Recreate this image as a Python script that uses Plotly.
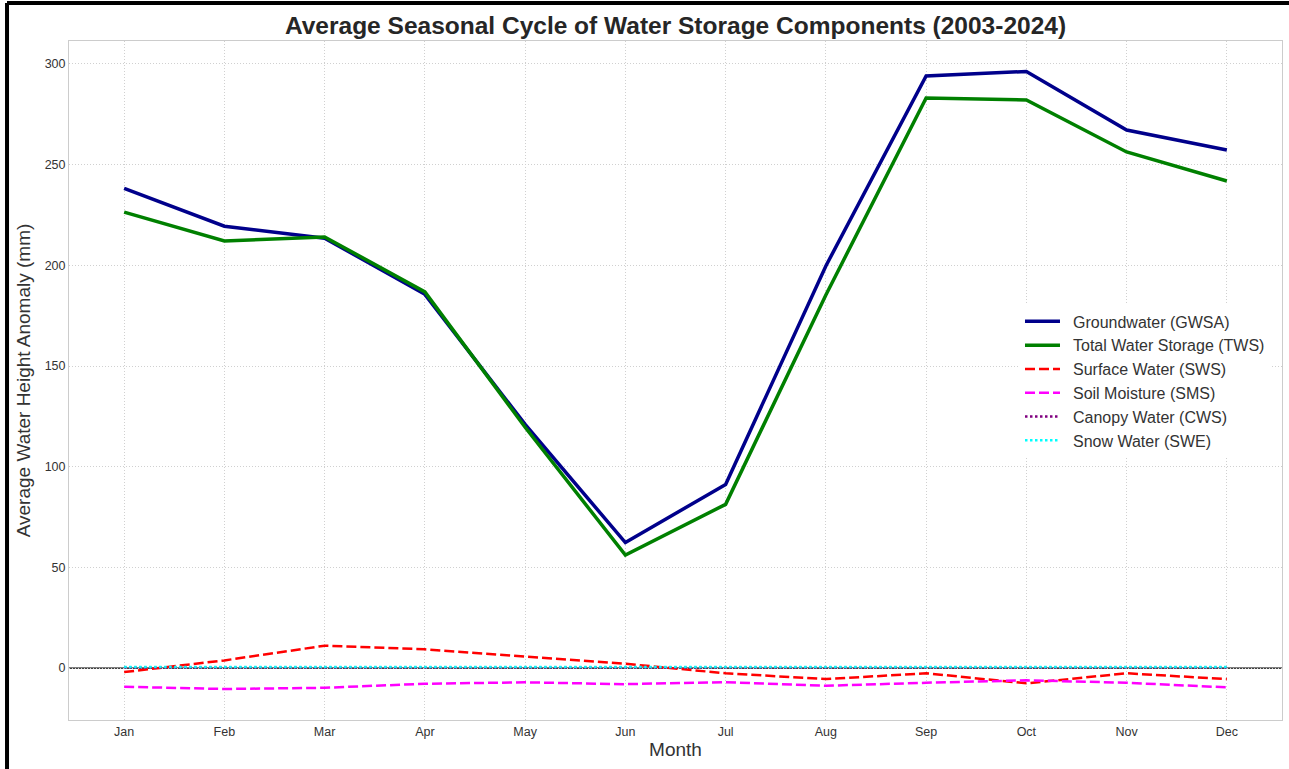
import plotly.graph_objects as go

months = ["Jan", "Feb", "Mar", "Apr", "May", "Jun", "Jul", "Aug", "Sep", "Oct", "Nov", "Dec"]
gwsa = [238.2, 219.4, 213.5, 185.6, 121.0, 62.3, 91.2, 199.7, 294.0, 296.3, 267.2, 257.3]
tws = [226.4, 212.1, 214.1, 186.8, 119.6, 56.1, 81.3, 185.3, 283.1, 282.1, 256.3, 241.9]
sws = [-2.0, 3.8, 11.1, 9.3, 5.7, 2.1, -2.6, -5.5, -2.6, -7.6, -2.6, -5.5]
sms = [-9.3, -10.4, -9.8, -7.8, -7.1, -8.0, -7.0, -8.8, -7.3, -6.1, -7.3, -9.6]
cws = [0.3, 0.3, 0.3, 0.3, 0.3, 0.3, 0.3, 0.3, 0.3, 0.3, 0.3, 0.3]
swe = [0.5, 0.5, 0.5, 0.5, 0.5, 0.5, 0.5, 0.5, 0.5, 0.5, 0.5, 0.5]

series = [
    ("Groundwater (GWSA)", gwsa, "#00008B", 3.5, "solid"),
    ("Total Water Storage (TWS)", tws, "#008000", 3.5, "solid"),
    ("Surface Water (SWS)", sws, "#FF0000", 2.5, "10px,4px"),
    ("Soil Moisture (SMS)", sms, "#FF00FF", 2.5, "10px,4px"),
    ("Canopy Water (CWS)", cws, "#800080", 2.5, "2.5px,2.5px"),
    ("Snow Water (SWE)", swe, "#00FFFF", 2.5, "2.5px,2.5px"),
]

font = "Liberation Sans, Arial, sans-serif"
fig = go.Figure()
for i, (name, vals, color, w, dash) in enumerate(series):
    fig.add_trace(go.Scatter(
        x=list(range(len(months))), y=vals, mode="lines", name="\u2002" + name,
        line=dict(color=color, width=w, dash=dash),
    ))

fig.add_hline(y=0, line=dict(color="black", width=1.2), layer="below")

# outer frame (top and left)
fig.add_shape(type="line", xref="paper", yref="paper", x0=-0.0511, x1=1.01, y0=1.056, y1=1.056,
              line=dict(color="black", width=4))
fig.add_shape(type="line", xref="paper", yref="paper", x0=-0.0511, x1=-0.0511, y0=1.056, y1=-0.1,
              line=dict(color="black", width=4))

fig.update_layout(
    width=1289, height=769,
    margin=dict(l=69, r=7, t=41, b=49),
    paper_bgcolor="white", plot_bgcolor="white",
    font=dict(family=font, color="#333333"),
    title=dict(text="<b>Average Seasonal Cycle of Water Storage Components (2003-2024)</b>",
               x=0.5, xref="paper", xanchor="center", y=0.967, yref="container", yanchor="middle",
               font=dict(size=24.5, color="#262626", family=font)),
    showlegend=True,
    legend=dict(x=0.784, y=0.612, xanchor="left", yanchor="top", bgcolor="white",
                borderwidth=0, font=dict(size=16, color="#333333"), itemwidth=35),
    xaxis=dict(
        range=[-0.55, 11.55], tickmode="array", tickvals=list(range(12)), ticktext=months,
        showgrid=True, gridcolor="#d0d0d0", griddash="1px,2px", gridwidth=1,
        showline=True, linecolor="#cccccc", linewidth=1, mirror=True, zeroline=False,
        ticks="", tickfont=dict(size=12.5, color="#333333"),
        title=dict(text="Month", font=dict(size=19, color="#333333"), standoff=4),
    ),
    yaxis=dict(
        range=[-25.8, 311.4], tickmode="array", tickvals=[0, 50, 100, 150, 200, 250, 300],
        showgrid=True, gridcolor="#d0d0d0", griddash="1px,2px", gridwidth=1,
        showline=True, linecolor="#cccccc", linewidth=1, mirror=True, zeroline=False,
        ticks="", tickfont=dict(size=12.5, color="#333333"),
        title=dict(text="Average Water Height Anomaly (mm)", font=dict(size=19, color="#333333"), standoff=8),
    ),
)

fig.write_html("out.html", config={"displayModeBar": False},
               post_script="document.body.style.margin='0';document.body.style.padding='0';")
